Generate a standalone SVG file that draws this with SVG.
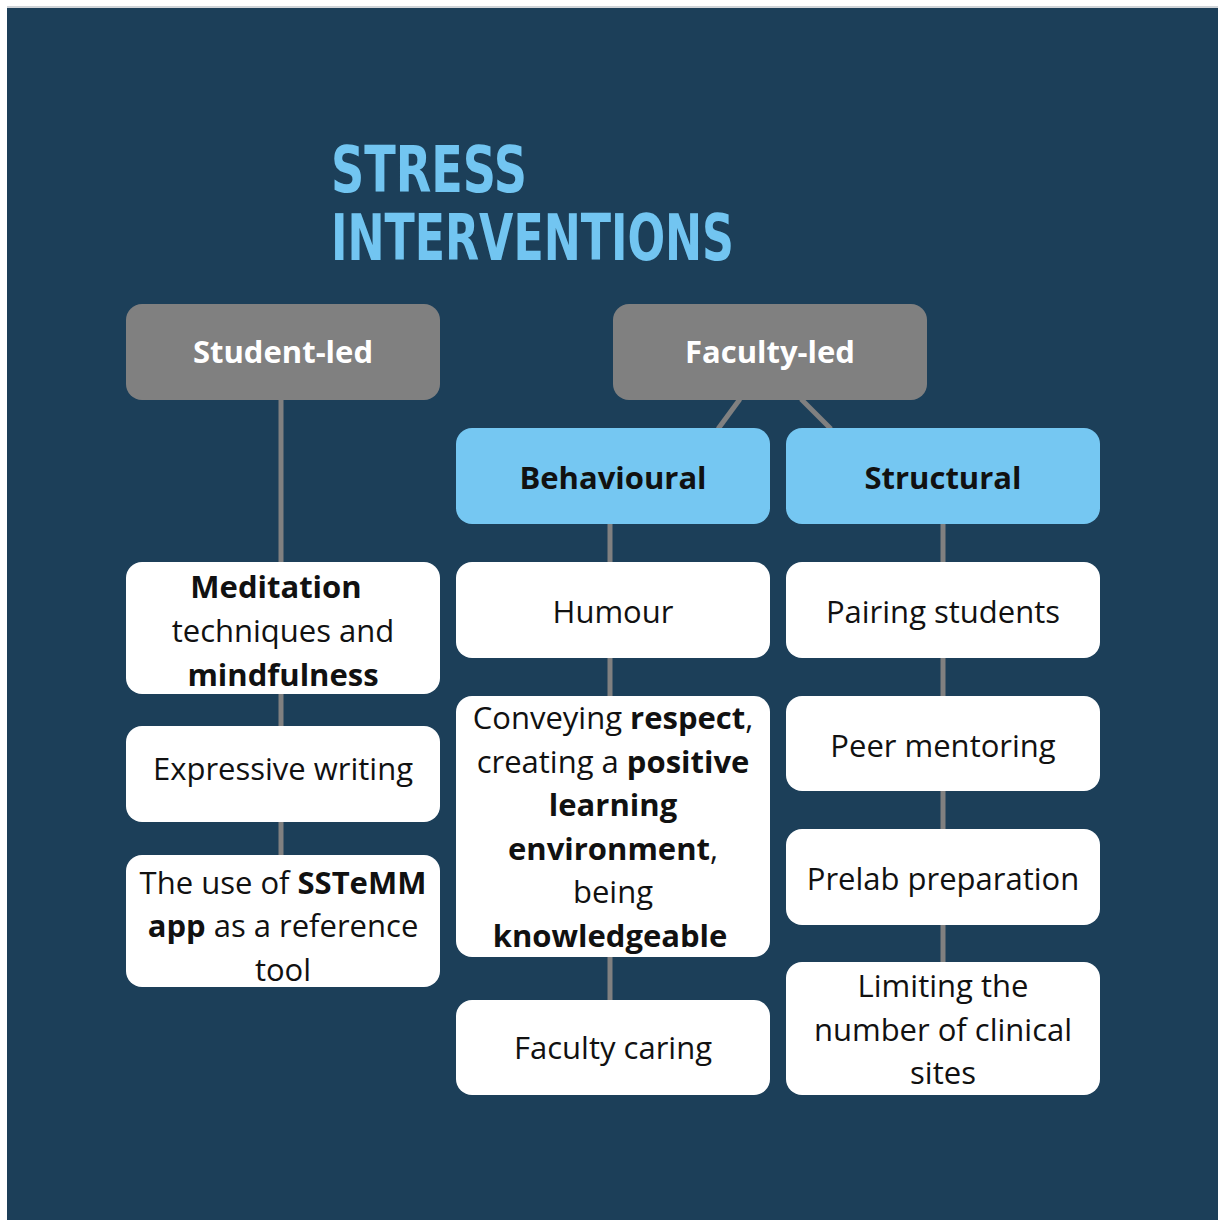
<svg xmlns="http://www.w3.org/2000/svg" width="1218" height="1220" viewBox="0 0 1218 1220">
<style>
.bg{fill:#1C3F59}
.gray{fill:#808080}
.blue{fill:#75C7F2}
.white{fill:#FFFFFF}
.t{font-family:"Open Sans","Noto Sans","DejaVu Sans",sans-serif;font-size:31px;text-anchor:middle;fill:#111}
.b{font-weight:bold}
.wt{fill:#FFFFFF}
.title{font-family:"DejaVu Sans Condensed","Liberation Sans Narrow","DejaVu Sans",sans-serif;font-weight:bold;font-size:64px;fill:#72C5F1}
.c{stroke:#808080;stroke-width:5;fill:none}
</style>
<rect x="0" y="0" width="1218" height="1220" fill="#FFFFFF"/>
<rect x="7" y="6" width="1211" height="2" fill="#D0D4D8"/>
<rect class="bg" x="7" y="8" width="1211" height="1212"/>
<g id="title">
<text class="title" x="331" y="192" textLength="196" lengthAdjust="spacingAndGlyphs">STRESS</text>
<text class="title" x="331" y="260" textLength="403" lengthAdjust="spacingAndGlyphs">INTERVENTIONS</text>
</g>
<g id="connectors">
<line class="c" x1="281" y1="400" x2="281" y2="562"/>
<line class="c" x1="281" y1="694" x2="281" y2="726"/>
<line class="c" x1="281" y1="822" x2="281" y2="855"/>
<line class="c" x1="740" y1="399" x2="718" y2="429"/>
<line class="c" x1="801" y1="399" x2="831" y2="429"/>
<line class="c" x1="610" y1="524" x2="610" y2="562"/>
<line class="c" x1="610" y1="658" x2="610" y2="696"/>
<line class="c" x1="610" y1="957" x2="610" y2="1000"/>
<line class="c" x1="943" y1="524" x2="943" y2="562"/>
<line class="c" x1="943" y1="658" x2="943" y2="696"/>
<line class="c" x1="943" y1="791" x2="943" y2="829"/>
<line class="c" x1="943" y1="925" x2="943" y2="962"/>
</g>
<g id="student-led">
<rect class="gray" x="126" y="304" width="314" height="96" rx="16"/>
<text class="t b wt" x="283" y="363">Student-led</text>
</g>
<g id="faculty-led">
<rect class="gray" x="613" y="304" width="314" height="96" rx="16"/>
<text class="t b wt" x="770" y="363">Faculty-led</text>
</g>
<g id="behavioural">
<rect class="blue" x="456" y="428" width="314" height="96" rx="16"/>
<text class="t b" x="613" y="489">Behavioural</text>
</g>
<g id="structural">
<rect class="blue" x="786" y="428" width="314" height="96" rx="16"/>
<text class="t b" x="943" y="489">Structural</text>
</g>
<g id="meditation">
<rect class="white" x="126" y="562" width="314" height="132" rx="16"/>
<text class="t" x="276" y="598"><tspan class="b">Meditation</tspan></text>
<text class="t" x="283" y="642">techniques and</text>
<text class="t" x="283" y="686"><tspan class="b">mindfulness</tspan></text>
</g>
<g id="expressive">
<rect class="white" x="126" y="726" width="314" height="96" rx="16"/>
<text class="t" x="283" y="780">Expressive writing</text>
</g>
<g id="sstemm">
<rect class="white" x="126" y="855" width="314" height="132" rx="16"/>
<text class="t" x="283" y="894">The use of <tspan class="b">SSTeMM</tspan></text>
<text class="t" x="283" y="937"><tspan class="b">app</tspan> as a reference</text>
<text class="t" x="283" y="981">tool</text>
</g>
<g id="humour">
<rect class="white" x="456" y="562" width="314" height="96" rx="16"/>
<text class="t" x="613" y="623">Humour</text>
</g>
<g id="conveying">
<rect class="white" x="456" y="696" width="314" height="261" rx="16"/>
<text class="t" x="613" y="729">Conveying <tspan class="b">respect</tspan>,</text>
<text class="t" x="613" y="773">creating a <tspan class="b">positive</tspan></text>
<text class="t" x="613" y="816"><tspan class="b">learning</tspan></text>
<text class="t" x="613" y="860"><tspan class="b">environment</tspan>,</text>
<text class="t" x="613" y="903">being</text>
<text class="t" x="610" y="947"><tspan class="b">knowledgeable</tspan></text>
</g>
<g id="faculty-caring">
<rect class="white" x="456" y="1000" width="314" height="95" rx="16"/>
<text class="t" x="613" y="1059">Faculty caring</text>
</g>
<g id="pairing">
<rect class="white" x="786" y="562" width="314" height="96" rx="16"/>
<text class="t" x="943" y="623">Pairing students</text>
</g>
<g id="peer">
<rect class="white" x="786" y="696" width="314" height="95" rx="16"/>
<text class="t" x="943" y="757">Peer mentoring</text>
</g>
<g id="prelab">
<rect class="white" x="786" y="829" width="314" height="96" rx="16"/>
<text class="t" x="943" y="890">Prelab preparation</text>
</g>
<g id="limiting">
<rect class="white" x="786" y="962" width="314" height="133" rx="16"/>
<text class="t" x="943" y="997">Limiting the</text>
<text class="t" x="943" y="1041">number of clinical</text>
<text class="t" x="943" y="1084">sites</text>
</g>
</svg>
